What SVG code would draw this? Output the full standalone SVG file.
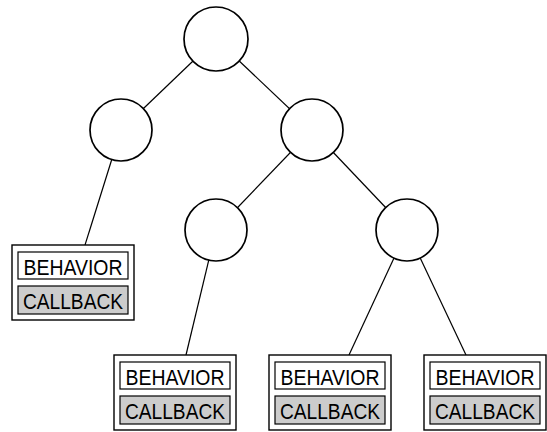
<svg xmlns="http://www.w3.org/2000/svg" width="547" height="432" viewBox="0 0 547 432">
<style>
.n{fill:#fff;stroke:#000;stroke-width:1.7}
.e{stroke:#000;stroke-width:1.2;fill:none}
.o{fill:#fff;stroke:#000;stroke-width:1.4}
.b{fill:#fff;stroke:#000;stroke-width:1.2}
.c{fill:#cccccc;stroke:#000;stroke-width:1.2}
.t{font-family:"Liberation Sans",Arial,sans-serif;font-size:22px;text-anchor:middle;fill:#000}
</style>
<defs>
<g id="leaf">
<rect class="o" x="0" y="0" width="122" height="75"/>
<rect class="b" x="6" y="7" width="110" height="27"/>
<rect class="c" x="6" y="41" width="110" height="28"/>
<text class="t" x="61" y="30" textLength="99" lengthAdjust="spacingAndGlyphs">BEHAVIOR</text>
<text class="t" x="61" y="64" textLength="100" lengthAdjust="spacingAndGlyphs">CALLBACK</text>
</g>
</defs>
<g id="edges">
<line class="e" x1="216" y1="39" x2="121" y2="130"/>
<line class="e" x1="216" y1="39" x2="312" y2="130"/>
<line class="e" x1="121" y1="130" x2="85" y2="245"/>
<line class="e" x1="312" y1="130" x2="216" y2="230"/>
<line class="e" x1="312" y1="130" x2="407" y2="230"/>
<line class="e" x1="216" y1="230" x2="186" y2="355"/>
<line class="e" x1="407" y1="230" x2="349" y2="355"/>
<line class="e" x1="407" y1="230" x2="466" y2="355"/>
</g>
<g id="root"><circle class="n" cx="216" cy="39" r="32"/></g>
<g id="n1"><circle class="n" cx="121" cy="130" r="31"/></g>
<g id="n2"><circle class="n" cx="312" cy="130" r="31"/></g>
<g id="n3"><circle class="n" cx="216" cy="230" r="31"/></g>
<g id="n4"><circle class="n" cx="407" cy="230" r="31"/></g>
<g id="leaf1"><use href="#leaf" x="12" y="245"/></g>
<g id="leaf2"><use href="#leaf" x="114" y="355"/></g>
<g id="leaf3"><use href="#leaf" x="269" y="355"/></g>
<g id="leaf4"><use href="#leaf" x="424" y="355"/></g>
</svg>
